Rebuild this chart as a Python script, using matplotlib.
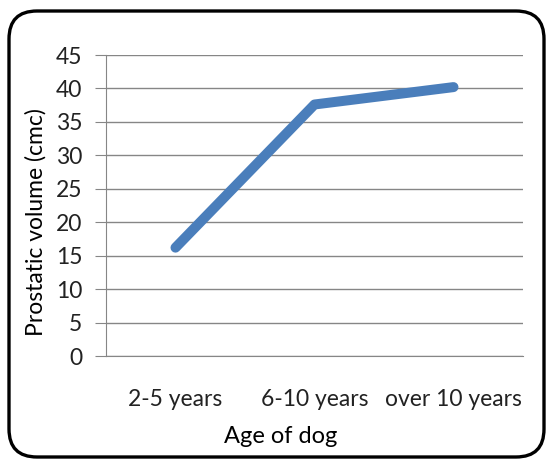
import matplotlib
matplotlib.use("Agg")
import matplotlib.pyplot as plt
from matplotlib.patches import FancyBboxPatch

# prostate volume by age group
ages = ["2-5 years", "6-10 years", "over 10 years"]
volume = [16.2, 37.6, 40.2]
yticks = [0, 5, 10, 15, 20, 25, 30, 35, 40, 45]

plt.rcParams['font.family'] = ['Lato', 'DejaVu Sans']

W, H = 547, 461
fig = plt.figure(figsize=(W / 100, H / 100), dpi=100)

# rounded frame around the whole chart, drawn in pixel units
bg = fig.add_axes([0, 0, 1, 1])
bg.set_xlim(0, W)
bg.set_ylim(H, 0)
bg.axis("off")
frame = FancyBboxPatch((9, 11), 535, 446, boxstyle="round,pad=0,rounding_size=28",
                       facecolor="white", edgecolor="black", linewidth=2.4)
bg.add_patch(frame)

ax = fig.add_axes([106 / W, 1 - 356 / H, (523 - 106) / W, (356 - 55) / H])
ax.patch.set_alpha(0)
x = list(range(len(ages)))
ax.plot(x, volume, color="#4a7ebb", linewidth=7.2, solid_capstyle="round",
        solid_joinstyle="round", zorder=3)

ax.set_xlim(-0.5, len(ages) - 0.5)
ax.set_ylim(0, 45)
ax.set_yticks(yticks)
ax.set_xticks(x)
ax.set_xticklabels(ages)
ax.grid(axis="y", color="#868686", linewidth=1.0)
ax.set_axisbelow(True)

for s in ["top", "right"]:
    ax.spines[s].set_visible(False)
ax.spines["left"].set_color("#868686")
ax.spines["bottom"].set_color("#868686")
ax.tick_params(axis="y", length=8, color="#868686", labelsize=16.5, pad=9,
               labelcolor="#222222")
ax.tick_params(axis="x", length=0, labelsize=16.5, pad=24, labelcolor="#222222")

# axis titles sit at fixed spots in the frame
bg.text(281, 436, "Age of dog", fontsize=17, color="black",
        ha="center", va="center")
bg.text(36, 222, "Prostatic volume (cmc)", fontsize=16.5, rotation=90,
        ha="center", va="center")

fig.savefig("out.png", dpi=100)
